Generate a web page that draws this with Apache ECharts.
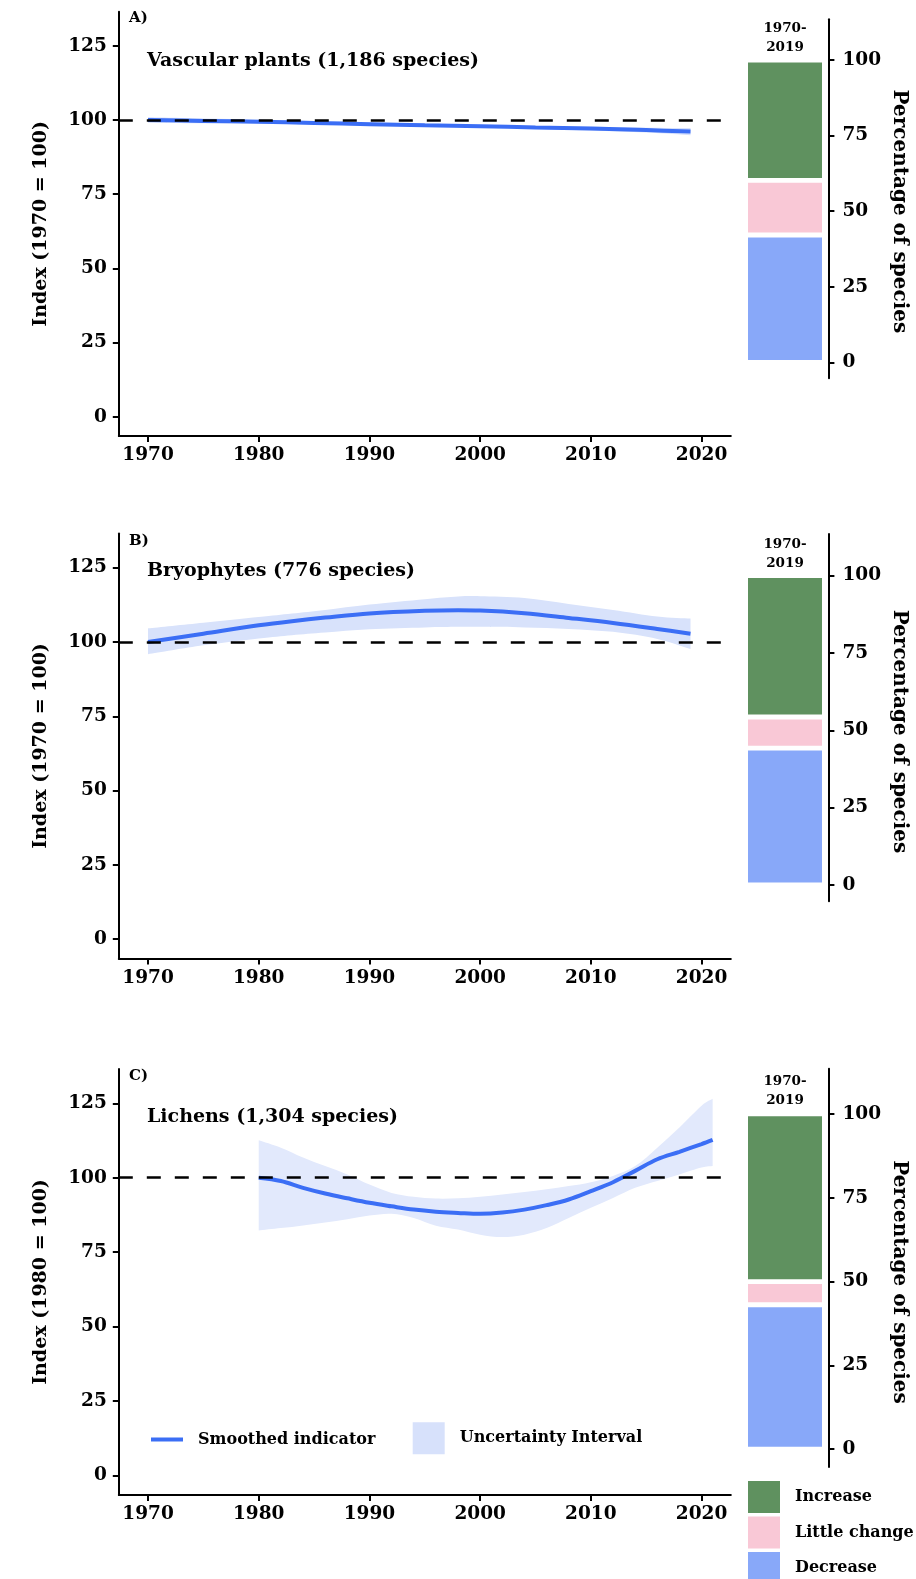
<!DOCTYPE html>
<html>
<head>
<meta charset="utf-8">
<script src="https://cdn.jsdelivr.net/npm/echarts@6/dist/echarts.min.js"></script>
<style>
html,body{margin:0;padding:0;background:#ffffff;}
#chart{width:916px;height:1579px;}
</style>
</head>
<body>
<div id="chart"></div>
<script>
// ---------------- DATA ----------------
const xTickYears = [1970, 1980, 1990, 2000, 2010, 2020];
const indexTicks = [0, 25, 50, 75, 100, 125];
const pctTicks = [0, 25, 50, 75, 100];
const baselineIndex = 100;

// Panel A: Vascular plants
const yearsA = [1970, 1975, 1980, 1985, 1990, 1995, 2000, 2005, 2010, 2015, 2019];
const indexA = [100, 99.7, 99.4, 99.0, 98.6, 98.2, 97.9, 97.5, 97.1, 96.6, 96.1];
const lowerA = [99.1, 98.9, 98.8, 98.5, 98.1, 97.8, 97.4, 97.0, 96.5, 95.8, 94.9];
const upperA = [100.9, 100.5, 100.1, 99.6, 99.2, 98.7, 98.4, 98.0, 97.7, 97.4, 97.3];

// Panel B: Bryophytes
const yearsB = [1970, 1975, 1980, 1983, 1986, 1990, 1995, 1998, 2000, 2004, 2008, 2012, 2016, 2019];
const indexB = [100, 102.8, 105.6, 107.0, 108.2, 109.6, 110.5, 110.7, 110.6, 109.7, 108.1, 106.4, 104.4, 102.8];
const upperB = [104.6, 106.5, 108.4, 109.6, 110.8, 112.6, 114.4, 115.3, 115.4, 114.8, 112.8, 110.8, 108.6, 107.9];
const lowerB = [95.9, 98.9, 101.2, 102.3, 103.2, 104.3, 104.9, 105.1, 105.1, 104.9, 104.4, 103.4, 101.0, 97.6];

// Panel C: Lichens
const yearsC = [1980, 1982, 1984, 1986, 1988, 1990, 1992, 1994, 1996, 1998, 2000, 2002, 2004, 2006, 2008, 2010, 2012, 2014, 2016, 2018, 2020, 2021];
const indexC = [100, 98.9, 96.6, 94.7, 93.1, 91.6, 90.4, 89.3, 88.6, 88.2, 87.9, 88.3, 89.3, 90.8, 92.7, 95.5, 98.5, 102.3, 106.2, 108.7, 111.3, 112.7];
const upperC = [112.6, 110.1, 106.8, 103.9, 101.1, 97.7, 94.9, 93.6, 93.0, 93.1, 93.6, 94.4, 95.2, 96.1, 97.2, 98.5, 100.6, 103.9, 110.1, 116.9, 124.2, 126.5];
const lowerC = [82.3, 83.1, 84.0, 85.0, 86.1, 87.3, 87.9, 86.5, 83.9, 82.6, 80.9, 80.1, 80.9, 83.1, 86.5, 89.9, 93.2, 96.6, 98.9, 101.1, 103.4, 103.9];

// Percentage of species 1970-2019 (stack order bottom -> top)
const trendCategories = ['Decrease', 'Little change', 'Increase'];
const pctA = [42.1, 18.1, 39.8];
const pctB = [44.2, 10.1, 45.7];
const pctC = [43.1, 6.9, 50.0];
const barCategory = ['1970-2019'];

const panelLabels = ['A)', 'B)', 'C)'];
const panelTitles = ['Vascular plants (1,186 species)', 'Bryophytes (776 species)', 'Lichens (1,304 species)'];
const indexNames = ['Index (1970 = 100)', 'Index (1970 = 100)', 'Index (1980 = 100)'];
const pctName = 'Percentage of species';
const periodLabel = '1970-\n2019';

// ---------------- STYLE / LAYOUT ----------------
const FONT = '"DejaVu Serif", "Liberation Serif", serif';
const LINE_COLOR = '#3b6ef5';
const BAND_COLORS = ['#d6e0fb', '#d8e2fb', '#e2e9fc'];
const BAND_LEGEND_COLOR = '#d7e1fb';
const BAR_COLORS = {'Decrease': '#88a8f9', 'Little change': '#f9c8d6', 'Increase': '#5f915f'};
const BAR_BORDER = 2.4;

const layout = [
  {lineTop: 11.7, lineH: 424.3, barTop: 19.2, barH: 359.1, labelY: 18.5, titleY: 60.8, periodY: 37.5, pctNameY: 211.4},
  {lineTop: 533.5, lineH: 425.0, barTop: 533.9, barH: 367.4, labelY: 541, titleY: 570.7, periodY: 554, pctNameY: 731.5},
  {lineTop: 1069.0, lineH: 426.0, barTop: 1068.7, barH: 398.3, labelY: 1076.5, titleY: 1117.3, periodY: 1090.5, pctNameY: 1282}
];

const panels = [
  {years: yearsA, index: indexA, lower: lowerA, upper: upperA, pct: pctA},
  {years: yearsB, index: indexB, lower: lowerB, upper: upperB, pct: pctB},
  {years: yearsC, index: indexC, lower: lowerC, upper: upperC, pct: pctC}
];

const tickLabelStyle = {fontFamily: FONT, fontWeight: 'bold', fontSize: 18.5, color: '#000'};
const axisLineStyle = {color: '#000', width: 2};

// Catmull-Rom style smooth path through screen points (continuing an existing path)
function curveThrough(pts, start) {
  let d = (start ? 'M' : 'L') + pts[0][0] + ' ' + pts[0][1];
  const t = 1 / 6;
  for (let i = 0; i < pts.length - 1; i++) {
    const p0 = pts[i - 1] || pts[i], p1 = pts[i], p2 = pts[i + 1], p3 = pts[i + 2] || pts[i + 1];
    const c1x = p1[0] + (p2[0] - p0[0]) * t, c1y = p1[1] + (p2[1] - p0[1]) * t;
    const c2x = p2[0] - (p3[0] - p1[0]) * t, c2y = p2[1] - (p3[1] - p1[1]) * t;
    d += ' C' + c1x + ' ' + c1y + ' ' + c2x + ' ' + c2y + ' ' + p2[0] + ' ' + p2[1];
  }
  return d;
}

const grids = [], xAxes = [], yAxes = [], series = [], graphics = [];

panels.forEach((p, i) => {
  const L = layout[i];
  const gLine = i * 2, gBar = i * 2 + 1;
  grids.push({left: 118.8, width: 612, top: L.lineTop, height: L.lineH, containLabel: false});
  grids.push({left: 741.6, width: 86.8, top: L.barTop, height: L.barH, containLabel: false});

  xAxes.push({
    gridIndex: gLine, type: 'value', min: 1967.36, max: 2022.64,
    axisLine: {show: true, onZero: false, lineStyle: axisLineStyle},
    axisTick: {show: true, length: 6, lineStyle: axisLineStyle, customValues: xTickYears},
    axisLabel: Object.assign({margin: 10, customValues: xTickYears, formatter: v => String(v)}, tickLabelStyle),
    splitLine: {show: false}
  });
  xAxes.push({gridIndex: gBar, type: 'category', data: barCategory, show: false});

  yAxes.push({
    gridIndex: gLine, type: 'value', min: -6.5, max: 136.5,
    name: indexNames[i], nameLocation: 'middle', nameGap: 68.5, nameRotate: 90,
    nameTextStyle: {fontFamily: FONT, fontWeight: 'bold', fontSize: 19, color: '#000'},
    axisLine: {show: true, onZero: false, lineStyle: axisLineStyle},
    axisTick: {show: true, length: 6, lineStyle: axisLineStyle, customValues: indexTicks},
    axisLabel: Object.assign({margin: 12, customValues: indexTicks, formatter: v => String(v)}, tickLabelStyle),
    splitLine: {show: false}
  });
  yAxes.push({
    gridIndex: gBar, type: 'value', position: 'right', min: -5.3, max: 113.5,
    axisLine: {show: true, onZero: false, lineStyle: axisLineStyle},
    axisTick: {show: true, length: 6, lineStyle: axisLineStyle, customValues: pctTicks},
    axisLabel: Object.assign({margin: 14, customValues: pctTicks, formatter: v => String(v)}, tickLabelStyle),
    splitLine: {show: false}
  });

  // Uncertainty band: polygon between lower and upper, positioned through the axes
  series.push({
    name: 'Uncertainty Interval', type: 'custom', xAxisIndex: gLine, yAxisIndex: gLine,
    data: p.years.map((y, k) => [y, p.lower[k], p.upper[k]]),
    encode: {x: 0, y: [1, 2]},
    itemStyle: {color: BAND_COLORS[i]},
    silent: true, z: 1,
    renderItem: function (params, api) {
      if (params.dataIndex !== 0) return null;
      const up = p.years.map((y, k) => api.coord([y, p.upper[k]]));
      const lo = p.years.map((y, k) => api.coord([y, p.lower[k]])).reverse();
      const d = curveThrough(up, true) + ' ' + curveThrough(lo, false) + ' Z';
      return {type: 'path', shape: {pathData: d}, style: {fill: BAND_COLORS[i], stroke: null}};
    }
  });
  series.push({
    name: 'Smoothed indicator', type: 'line', xAxisIndex: gLine, yAxisIndex: gLine,
    data: p.years.map((y, k) => [y, p.index[k]]),
    symbol: 'none', smooth: 0.35, lineStyle: {color: LINE_COLOR, width: 4},
    itemStyle: {color: LINE_COLOR}, z: 3,
    markLine: {
      silent: true, symbol: 'none', label: {show: false}, z: 5,
      lineStyle: {color: '#000', type: [14, 14], width: 2.5},
      data: [{yAxis: baselineIndex}]
    }
  });

  trendCategories.forEach((cat, k) => {
    series.push({
      name: cat, type: 'bar', xAxisIndex: gBar, yAxisIndex: gBar, stack: 'pct' + i,
      data: [p.pct[k]], barWidth: 74 + 2 * BAR_BORDER,
      itemStyle: {color: BAR_COLORS[cat], borderColor: '#ffffff', borderWidth: BAR_BORDER}
    });
  });

  graphics.push({type: 'text', x: 129, y: L.labelY, style: {text: panelLabels[i], fontFamily: FONT, fontWeight: 'bold', fontSize: 15, fill: '#000', align: 'left', verticalAlign: 'middle'}});
  graphics.push({type: 'text', x: 147, y: L.titleY, style: {text: panelTitles[i], fontFamily: FONT, fontWeight: 'bold', fontSize: 19, fill: '#000', align: 'left', verticalAlign: 'middle'}});
  graphics.push({type: 'text', x: 785, y: L.periodY, style: {text: periodLabel, fontFamily: FONT, fontWeight: 'bold', fontSize: 13.5, lineHeight: 19, fill: '#000', align: 'center', verticalAlign: 'middle'}});
  graphics.push({type: 'text', x: 899, y: L.pctNameY, rotation: -Math.PI / 2, style: {text: pctName, fontFamily: FONT, fontWeight: 'bold', fontSize: 20, fill: '#000', align: 'center', verticalAlign: 'middle'}});
});

const legendText = {fontFamily: FONT, fontWeight: 'bold', fontSize: 16, color: '#000', padding: [0, 0, 0, 10]};

const option = {
  animation: false,
  backgroundColor: '#ffffff',
  grid: grids,
  xAxis: xAxes,
  yAxis: yAxes,
  series: series,
  graphic: graphics,
  legend: [
    {
      data: ['Increase', 'Little change', 'Decrease'], orient: 'vertical', left: 748, top: 1481,
      width: 168, height: 150,
      itemWidth: 32, itemHeight: 32, itemGap: 3.5, padding: 0, icon: 'rect',
      itemStyle: {borderWidth: 0}, selectedMode: false, textStyle: legendText
    },
    {
      data: [{name: 'Smoothed indicator', icon: 'rect', itemStyle: {color: LINE_COLOR, borderWidth: 0}}],
      orient: 'horizontal', left: 151, top: 1431.5,
      itemWidth: 32, itemHeight: 4, padding: 0, selectedMode: false, textStyle: legendText
    },
    {
      data: [{name: 'Uncertainty Interval', icon: 'rect', itemStyle: {color: BAND_LEGEND_COLOR, borderWidth: 0}}],
      orient: 'horizontal', left: 412.7, top: 1422.3,
      itemWidth: 32, itemHeight: 32, padding: 0, selectedMode: false, textStyle: legendText
    }
  ]
};

const chart = echarts.init(document.getElementById('chart'), null, {renderer: 'canvas'});
chart.setOption(option);
</script>
</body>
</html>
